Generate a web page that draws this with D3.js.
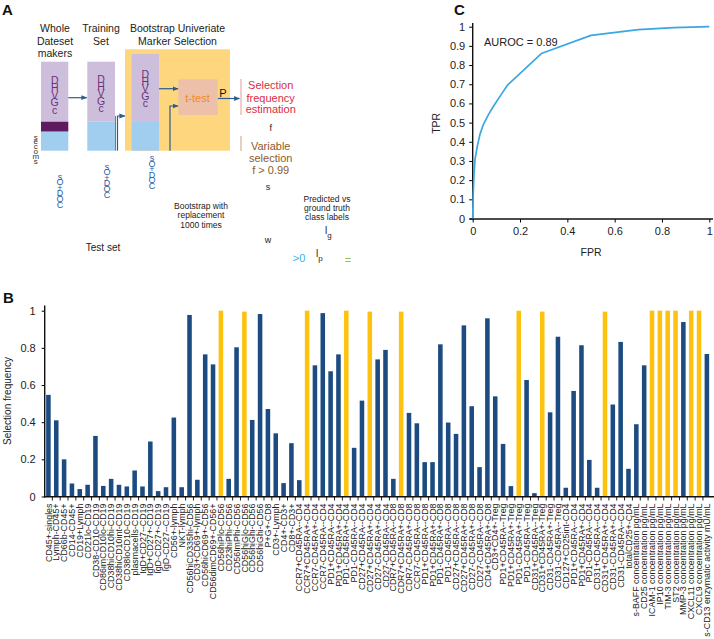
<!DOCTYPE html>
<html><head><meta charset="utf-8">
<script src="https://cdn.jsdelivr.net/npm/d3@7"></script>
<style>
html,body{margin:0;padding:0;background:#fff;}
svg{display:block;font-family:"Liberation Sans",Arial,Helvetica,sans-serif;}
.vstack{writing-mode:vertical-rl;text-orientation:upright;}
</style></head><body>
<svg id="chart" width="714" height="639"></svg>
<script>
// ---------------- DATA ----------------
const markers = [
 "CD45+-singles","Lymph-CD45+","CD66b-CD45+","CD14-CD45+","CD19+Lymph","CD21lo-CD19",
 "CD38-CD10-CD19","CD86imCD10lo-CD19","CD38hiCD10hi-CD19","CD38hiCD10int-CD19","CD38loCD10-CD19",
 "plasmacells-CD19","IgD+CD27--CD19","IgD+CD27+-CD19","IgD-CD27+-CD19","IgD-CD27--CD19",
 "CD56+-lymph","NKT-lymph","CD56hiCD335hi-CD56","CD3+CD69+-lymph","CD56hiCD69+-CD56",
 "CD56dimCD69+-CD56+","CD56hiPlo-CD56","CD23hiPhi-CD56","CD56ImPhi-CD56","CD56hiGlo-CD56",
 "CD56hiGhi-CD56","CD56hiGhi-CD56","P+G+-CD8","CD3+-Lymph","CD4+-CD3+","CD8+-CD3+",
 "CCR7+CD45RA--CD4","CCR7+CD45RA+-CD4","CCR7-CD45RA+-CD4","CCR7-CD45RA--CD4",
 "PD1+CD45RA--CD4","PD1+CD45RA+-CD4","PD1-CD45RA+-CD4","PD1-CD45RA--CD4",
 "CD27+CD45RA--CD4","CD27+CD45RA+-CD4","CD27-CD45RA+-CD4","CD27-CD45RA--CD4",
 "CDR7+CD45RA--CD8","CDR7+CD45RA+-CD8","CDR7-CD45RA+-CD8","CCR7-CD45RA--CD8",
 "PD1+CD45RA--CD8","PD1+CD45RA+-CD8","PD1-CD45RA+-CD8","PD1-CD45RA--CD8",
 "CD27+CD45RA--CD8","CD27+CD45RA+-CD8","CD27-CD45RA+-CD8","CD27-CD45RA--CD8",
 "CD4+CD45RA+-CD8","CD3+CD4+-Treg",
 "PD1+CD45RA--Treg","PD1+CD45RA+-Treg","PD1-CD45RA+-Treg","PD1-CD45RA--Treg",
 "CD31+CD45RA--Treg","CD31+CD45RA+-Treg","CD31-CD45RA+-Treg","CD31-CD45RA--Treg",
 "CD127+CD25int-CD4","PD1+CD45RA--CD4","PD1+CD45RA+-CD4","PD1-CD45RA--CD4",
 "CD31+CD45RA--CD4","CD31+CD45RA+-CD4","CD31-CD45RA+-CD4","CD31-CD45RA--CD4",
 "totalCD25+-CD4","s-BAFF concentration pg/mL","CD25 concentration pg/mL",
 "ICAM-1 concentration pg/mL","IP10 concentration pg/mL","TIM-3 concentration pg/mL",
 "ST2 concentration pg/mL","MMP-3 concentration pg/mL","CXCL11 concentration pg/mL",
 "CXCL9 concentration pg/mL","s-CD13 enzymatic activity mU/mL"
];
const selectionFrequency = [
 0.547,0.41,0.20,0.07,0.04,0.063,0.326,0.057,0.095,0.063,0.054,0.14,0.054,0.296,0.029,0.05,
 0.425,0.05,0.977,0.09,0.765,0.711,1.0,0.095,0.803,0.995,0.412,0.982,0.471,0.34,0.072,0.287,
 0.088,1.0,0.706,0.987,0.674,0.765,1.0,0.262,0.516,0.995,0.738,0.789,0.095,0.995,0.45,0.394,
 0.185,0.185,0.819,0.398,0.337,0.921,0.486,0.158,0.959,0.539,0.283,0.056,1.0,0.627,0.018,
 0.995,0.453,0.86,0.047,0.568,0.814,0.197,0.047,0.995,0.495,0.832,0.149,0.389,0.706,
 1.0,1.0,1.0,1.0,0.939,1.0,1.0,0.767
];
const selectionThreshold = 0.99;
const freqTicks = [0,0.2,0.4,0.6,0.8,1];

const rocFPR = [0,0.002,0.005,0.01,0.02,0.031,0.045,0.066,0.085,0.101,0.125,0.147,0.29,0.5,0.7,0.85,1];
const rocTPR = [0,0.12,0.22,0.31,0.38,0.44,0.49,0.54,0.58,0.61,0.655,0.695,0.86,0.955,0.985,0.995,1];
const tprTicks = [0,0.1,0.2,0.3,0.4,0.5,0.6,0.7,0.8,0.9,1];
const fprTicks = [0,0.2,0.4,0.6,0.8,1];
const aurocLabel = "AUROC = 0.89";

// ---------------- SETUP ----------------
const svg = d3.select("#chart");
const ARROW = "#2c5d8e";
const defs = svg.append("defs");
defs.append("marker").attr("id","arr").attr("viewBox","0 0 10 10")
  .attr("refX",9).attr("refY",5).attr("markerWidth",6).attr("markerHeight",6)
  .attr("markerUnits","userSpaceOnUse").attr("orient","auto")
  .append("path").attr("d","M0,1 L10,5 L0,9 Z").attr("fill",ARROW);

function panelLetter(t,x,y){
  svg.append("text").attr("x",x).attr("y",y).attr("font-size",15).attr("font-weight","bold")
    .attr("fill","#111").text(t);
}

// ---------------- PANEL A ----------------
const gA = svg.append("g");
panelLetter("A",2,15);
const headings = [
  {x:55, lines:["Whole","Dateset","makers"]},
  {x:101, lines:["Training","Set"]},
  {x:177.5, lines:["Bootstrap Univeriate","Marker Selection"]}
];
headings.forEach(h=>h.lines.forEach((t,i)=>gA.append("text").attr("x",h.x).attr("y",32+i*12.5)
  .attr("text-anchor","middle").attr("font-size",10.5).attr("fill","#222").text(t)));

function rect(x,y,w,h,c){gA.append("rect").attr("x",x).attr("y",y).attr("width",w).attr("height",h).attr("fill",c);}
const PURP="#cdbfdb", DPURP="#5c1c5f", LBLUE="#a1cdef";
rect(125,49.3,105,101.4,"#fdd67d");
rect(41,61.7,27.3,60,PURP); rect(41,121.7,27.3,10,DPURP); rect(41,131.7,27.3,19,LBLUE);
rect(87.3,61.7,27.7,60,PURP); rect(87.3,121.7,27.7,29,LBLUE);
rect(131.7,54,27.3,67.7,PURP); rect(131.7,121.7,27.3,29,LBLUE);
rect(178.3,79.3,39.4,35.7,"#edc1a9");

// stacked (vertical, upright) words drawn as a single text element
function vstack(x,yTop,word,size,spacing,color){
  gA.append("text").attr("class","vstack").attr("x",x).attr("y",yTop)
    .attr("font-size",size).attr("letter-spacing",spacing).attr("fill",color).text(word);
}
vstack(54.7,74,"DHVGc",10.5,-4.6,"#6d2f7d");
vstack(101,72.5,"DHVGc",10.5,-4.6,"#6d2f7d");
vstack(145.3,67.5,"DHVGc",10.5,-4.6,"#6d2f7d");
vstack(60,171.5,"sO+DOC",9,-4.4,"#2b5ea7");
vstack(107,161.5,"sO+DOC",9,-4.4,"#2b5ea7");
vstack(152,153,"sO+DOC",9,-4.4,"#2b5ea7");
vstack(35.8,132.5,"secoms",8,-4.1,"#333");

function arrowPath(pts){
  gA.append("path").attr("d",d3.line()(pts)).attr("fill","none").attr("stroke",ARROW)
    .attr("stroke-width",1.2).attr("marker-end","url(#arr)");
}
arrowPath([[68.3,97.7],[86.8,97.7]]);
arrowPath([[117.5,150.7],[117.5,116],[124.8,116]]);
gA.append("line").attr("x1",115.5).attr("x2",115.5).attr("y1",116).attr("y2",150.7).attr("stroke",ARROW).attr("stroke-width",0.8);
arrowPath([[159,88.7],[178,88.7]]);
arrowPath([[170,150.7],[170,106],[178,106]]);
arrowPath([[218,98.5],[239.5,98.5]]);
gA.append("line").attr("x1",241).attr("x2",241).attr("y1",79).attr("y2",115).attr("stroke","#e39a9a").attr("stroke-width",1);
gA.append("line").attr("x1",241).attr("x2",241).attr("y1",136).attr("y2",151).attr("stroke","#c9a27f").attr("stroke-width",1);

function txt(x,y,t,size,color,anchor){
  gA.append("text").attr("x",x).attr("y",y).attr("font-size",size).attr("fill",color)
    .attr("text-anchor",anchor||"middle").text(t);
}
txt(197.5,101.5,"t-test",11,"#f08a24");
txt(222.8,97,"P",11,"#111");
txt(270.7,89,"Selection",11,"#d92d45");
txt(270.7,101.5,"frequency",11,"#d92d45");
txt(270.7,113,"estimation",11,"#d92d45");
txt(270.7,131,"f",9,"#222");
txt(270.7,150,"Variable",11,"#8e5a2a");
txt(270.7,162.3,"selection",11,"#8e5a2a");
txt(270.7,174,"f > 0.99",11,"#8e5a2a");
txt(268,189.5,"s",9,"#222");
txt(201,208.5,"Bootstrap with",8.5,"#222");
txt(201,218,"replacement",8.5,"#222");
txt(201,227.5,"1000 times",8.5,"#222");
txt(103,251,"Test set",10,"#222");
txt(268,243,"w",9,"#222");
txt(327,201.5,"Predicted vs",8.5,"#222");
txt(327,211,"ground truth",8.5,"#222");
txt(327,220,"class labels",8.5,"#222");
txt(299,262,">0",11,"#3ab0e8");
gA.append("text").attr("x",316).attr("y",257).attr("font-size",10).attr("fill","#222")
  .html('l<tspan font-size="8" dy="4">p</tspan>');
gA.append("text").attr("x",325).attr("y",234).attr("font-size",10).attr("fill","#222")
  .html('l<tspan font-size="8" dy="4">g</tspan>');
txt(348,264,"=",11,"#8cc63f");

// ---------------- PANEL B ----------------
const gB = svg.append("g");
panelLetter("B",3,303);
const idx = d3.range(markers.length);
const xB = d3.scaleBand().domain(idx).range([44.5,710.8]).paddingInner(0.42).paddingOuter(0.21);
const yB = d3.scaleLinear().domain([0,1]).range([496.5,310.7]);

gB.selectAll("rect.bar").data(idx).join("rect").attr("class","bar")
  .attr("x",i=>xB(i)).attr("width",xB.bandwidth())
  .attr("y",i=>yB(selectionFrequency[i])).attr("height",i=>yB(0)-yB(selectionFrequency[i]))
  .attr("fill",i=>selectionFrequency[i]>selectionThreshold?"#fdc20f":"#1b4b80");

const yAxisB = gB.append("g").attr("transform","translate(44.7,0)")
  .call(d3.axisLeft(yB).tickValues(freqTicks).tickSize(3).tickPadding(6).tickSizeOuter(0).tickFormat(d3.format("~g")));
yAxisB.select(".domain").remove();
yAxisB.selectAll("text").attr("font-size",11).attr("fill","#222");
gB.append("line").attr("x1",44.7).attr("x2",44.7).attr("y1",305.5).attr("y2",497.2).attr("stroke","#111").attr("stroke-width",1.4);
gB.append("text").attr("transform","translate(11,401) rotate(-90)").attr("text-anchor","middle")
  .attr("font-size",10).attr("fill","#222").text("Selection frequency");

const step = xB.step();
const boundaries = d3.range(1,markers.length).map(k=>xB.range()[0]+k*step);
gB.selectAll("line.tick").data(boundaries).join("line").attr("class","tick")
  .attr("x1",d=>d).attr("x2",d=>d).attr("y1",496.5).attr("y2",500.5).attr("stroke","#222").attr("stroke-width",1);
gB.append("line").attr("x1",44).attr("x2",714).attr("y1",496.8).attr("y2",496.8).attr("stroke","#111").attr("stroke-width",1.5);
gB.selectAll("text.lab").data(idx).join("text").attr("class","lab")
  .attr("transform",i=>`translate(${xB(i)+xB.bandwidth()/2},503.5) rotate(-90)`)
  .attr("dy","0.35em").attr("text-anchor","end").attr("font-size",8.9).attr("fill","#222")
  .text(i=>markers[i]);

// ---------------- PANEL C ----------------
const gC = svg.append("g");
panelLetter("C",454,15);
const xC = d3.scaleLinear().domain([0,1]).range([472.7,709.3]);
const yC = d3.scaleLinear().domain([0,1]).range([218.5,26.7]);
const yAxC = gC.append("g").attr("transform","translate(472.7,0)")
  .call(d3.axisLeft(yC).tickValues(tprTicks).tickSize(3.5).tickPadding(4).tickSizeOuter(0).tickFormat(d3.format("~g")));
yAxC.select(".domain").remove();
yAxC.selectAll("text").attr("font-size",11).attr("fill","#222");
const xAxC = gC.append("g").attr("transform","translate(0,219)")
  .call(d3.axisBottom(xC).tickValues(fprTicks).tickSize(3.5).tickPadding(5).tickSizeOuter(0).tickFormat(d3.format("~g")));
xAxC.select(".domain").remove();
xAxC.selectAll("text").attr("font-size",11).attr("fill","#222");
gC.append("line").attr("x1",472.7).attr("x2",472.7).attr("y1",23).attr("y2",219.7).attr("stroke","#111").attr("stroke-width",1.4);
gC.append("line").attr("x1",469.5).attr("x2",713).attr("y1",219).attr("y2",219).attr("stroke","#111").attr("stroke-width",1.4);
gC.append("path").datum(d3.range(rocFPR.length))
  .attr("d",d3.line().x(i=>xC(rocFPR[i])).y(i=>yC(rocTPR[i])))
  .attr("fill","none").attr("stroke","#3ba7e1").attr("stroke-width",1.7).attr("stroke-linejoin","round");
gC.append("text").attr("x",484).attr("y",45.5).attr("font-size",11).attr("fill","#222").text(aurocLabel);
gC.append("text").attr("transform","translate(439.5,123.3) rotate(-90)").attr("text-anchor","middle")
  .attr("font-size",10.5).attr("fill","#222").text("TPR");
gC.append("text").attr("x",591).attr("y",256).attr("text-anchor","middle")
  .attr("font-size",10.5).attr("fill","#222").text("FPR");
</script>
</body></html>
